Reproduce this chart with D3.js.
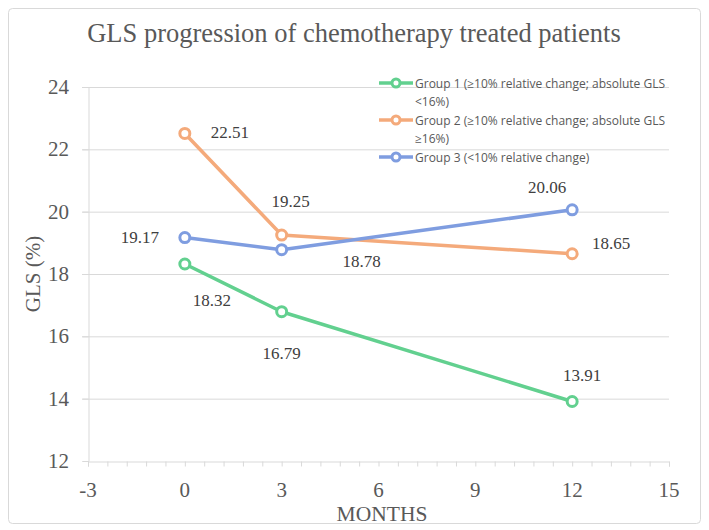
<!DOCTYPE html>
<html><head><meta charset="utf-8">
<script src="https://cdn.jsdelivr.net/npm/d3@7"></script>
<style>body{margin:0;background:#fff}</style>
</head><body><svg id="c" width="709" height="530"></svg>
<script>
const months = [0, 3, 12];
const seriesNames = ["Group 1 (≥10% relative change; absolute GLS <16%)", "Group 2 (≥10% relative change; absolute GLS ≥16%)", "Group 3 (<10% relative change)"];
const group1 = [18.32, 16.79, 13.91];
const group2 = [22.51, 19.25, 18.65];
const group3 = [19.17, 18.78, 20.06];
const xTicks = [-3, 0, 3, 6, 9, 12, 15];
const yTicks = [12, 14, 16, 18, 20, 22, 24];

const colors = ["#62d08f", "#f4aa7b", "#7f9de0"];
const serif = "'Liberation Serif','Times New Roman',serif";
const sans = "'Open Sans','Liberation Sans',sans-serif";
const grey = "#595959";
// label offsets [dx, dy(baseline)] per series per point
const labelPos = [
  [[27, 42], [0, 47], [10, -20]],
  [[45, 5], [9, -28], [39, -5]],
  [[-45, 5], [80, 17], [-25, -17]]
];

const svg = d3.select("#c");
svg.append("rect").attr("x", 8.5).attr("y", 8.5).attr("width", 692).attr("height", 515)
  .attr("rx", 4).attr("fill", "#fff").attr("stroke", "#d9d9d9");

const x = d3.scaleLinear().domain([-3, 15]).range([88, 669]);
const y = d3.scaleLinear().domain([12, 24]).range([461, 87]);

// gridlines
svg.append("g").selectAll("line").data(yTicks.filter(d => d > 12)).join("line")
  .attr("x1", 82).attr("x2", 669).attr("y1", d => y(d) + 0.5).attr("y2", d => y(d) + 0.5)
  .attr("stroke", "#d9d9d9").attr("stroke-width", 1);

// x axis
const xAxis = svg.append("g").attr("transform", `translate(0,${y(12) + 0.5})`)
  .call(d3.axisBottom(x).tickValues(d3.range(-3, 15.01, 0.6)).tickSize(5).tickFormat(""));
xAxis.select(".domain").attr("stroke", "#d9d9d9");
xAxis.selectAll("line").attr("stroke", "#d9d9d9");
svg.append("g").selectAll("text").data(xTicks).join("text")
  .attr("x", d => x(d)).attr("y", 497).attr("text-anchor", "middle")
  .attr("font-family", serif).attr("font-size", 21).attr("fill", grey).text(d => d);

// y axis
const yAxis = svg.append("g").attr("transform", `translate(${x(-3) + 0.5},0)`)
  .call(d3.axisLeft(y).tickValues(yTicks).tickSize(6).tickFormat(""));
yAxis.select(".domain").attr("stroke", "#d9d9d9");
yAxis.selectAll("line").attr("stroke", "#d9d9d9");
svg.append("g").selectAll("text").data(yTicks).join("text")
  .attr("x", 69).attr("y", d => y(d) + 7).attr("text-anchor", "end")
  .attr("font-family", serif).attr("font-size", 21).attr("fill", grey).text(d => d);

// title and axis titles
svg.append("text").attr("x", 354).attr("y", 42).attr("text-anchor", "middle")
  .attr("font-family", serif).attr("font-size", 26.5).attr("fill", grey)
  .text("GLS progression of chemotherapy treated patients");
svg.append("text").attr("transform", "translate(40,274) rotate(-90)").attr("text-anchor", "middle")
  .attr("font-family", serif).attr("font-size", 21).attr("fill", grey).text("GLS (%)");
svg.append("text").attr("x", 382).attr("y", 521).attr("text-anchor", "middle")
  .attr("font-family", serif).attr("font-size", 21.5).attr("fill", grey).text("MONTHS");

// series
const allSeries = [group1, group2, group3];
const line = d3.line().x((d, i) => x(months[i])).y(d => y(d));
allSeries.forEach((vals, s) => {
  const g = svg.append("g");
  g.append("path").datum(vals).attr("d", line).attr("fill", "none")
    .attr("stroke", colors[s]).attr("stroke-width", 3.5).attr("stroke-linejoin", "round");
  g.selectAll("circle").data(vals).join("circle")
    .attr("cx", (d, i) => x(months[i])).attr("cy", d => y(d)).attr("r", 5)
    .attr("fill", "#fff").attr("stroke", colors[s]).attr("stroke-width", 3);
  g.selectAll("text").data(vals).join("text")
    .attr("x", (d, i) => x(months[i]) + labelPos[s][i][0])
    .attr("y", (d, i) => y(d) + labelPos[s][i][1])
    .attr("text-anchor", "middle")
    .attr("font-family", serif).attr("font-size", 17).attr("fill", "#404040")
    .text(d => d.toFixed(2));
});

// legend
const legendRows = [
  ["Group 1 (≥10% relative change; absolute GLS", "<16%)"],
  ["Group 2 (≥10% relative change; absolute GLS", "≥16%)"],
  ["Group 3 (<10% relative change)"]
];
const legendY = [83, 120, 157];
legendRows.forEach((rows, s) => {
  const g = svg.append("g").attr("transform", `translate(379,${legendY[s]})`);
  g.append("line").attr("x1", 0).attr("x2", 34).attr("y1", 0).attr("y2", 0)
    .attr("stroke", colors[s]).attr("stroke-width", 3.5);
  g.append("circle").attr("cx", 17).attr("cy", 0).attr("r", 4)
    .attr("fill", "#fff").attr("stroke", colors[s]).attr("stroke-width", 3);
  rows.forEach((t, k) => {
    g.append("text").attr("x", 36).attr("y", 4.5 + k * 18)
      .attr("font-family", sans).attr("font-size", 12).attr("fill", grey).text(t);
  });
});
</script></body></html>
